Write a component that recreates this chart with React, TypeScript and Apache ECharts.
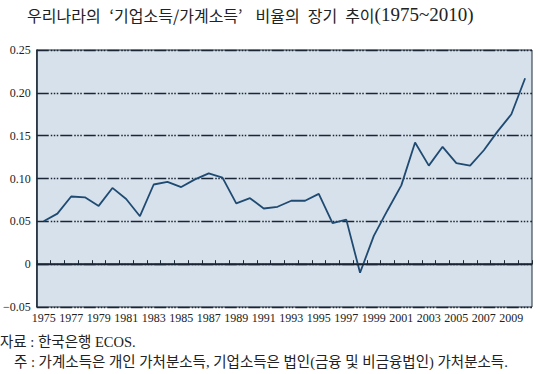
import React, { useEffect, useRef } from "react";
import * as echarts from "echarts";

const years: string[] = [
  "1975", "1976", "1977", "1978", "1979", "1980", "1981", "1982", "1983", "1984",
  "1985", "1986", "1987", "1988", "1989", "1990", "1991", "1992", "1993", "1994",
  "1995", "1996", "1997", "1998", "1999", "2000", "2001", "2002", "2003", "2004",
  "2005", "2006", "2007", "2008", "2009", "2010",
];

const ratio: number[] = [
  0.050, 0.059, 0.079, 0.078, 0.068, 0.089, 0.076, 0.056, 0.093, 0.096,
  0.090, 0.099, 0.106, 0.101, 0.071, 0.077, 0.065, 0.067, 0.074, 0.074,
  0.082, 0.048, 0.052, -0.010, 0.033, 0.063, 0.092, 0.142, 0.115, 0.137,
  0.118, 0.115, 0.133, 0.155, 0.175, 0.217,
];

const yTickLabels: Record<string, string> = {
  "-0.05": "\u22120.05",
  "0": "0",
  "0.05": "0.05",
  "0.1": "0.10",
  "0.15": "0.15",
  "0.2": "0.20",
  "0.25": "0.25",
};

const titleWords: string[] = ["우리나라의", "‘기업소득/가계소득’", "비율의", "장기", "추이"];
const titleYears = "(1975~2010)";
const sourceNote = "자료 : 한국은행 ECOS.";
const footNote = "주 : 가계소득은 개인 가처분소득, 기업소득은 법인(금융 및 비금융법인) 가처분소득.";

const SERIF = "'Liberation Serif', 'DejaVu Serif', 'Noto Sans CJK KR', serif";
const KR = "'Noto Sans CJK KR', sans-serif";

export default function App() {
  const ref = useRef<HTMLDivElement>(null);

  useEffect(() => {
    if (!ref.current) return;
    const chart = echarts.init(ref.current, undefined, { renderer: "svg" });
    const gaps = ["s1", "s2", "s3", "s3"];
    let titleRich = "";
    titleWords.forEach((w, i) => {
      titleRich += `{k|${w}}`;
      if (i < gaps.length) titleRich += `{${gaps[i]}| }`;
    });
    titleRich += `{y|${titleYears}}`;

    chart.setOption({
      animation: false,
      backgroundColor: "#ffffff",
      grid: {
        left: 36,
        right: 8,
        top: 50,
        bottom: 67,
        show: true,
        backgroundColor: "#d6e1eb",
        borderColor: "#1e2a38",
        borderWidth: 1,
      },
      xAxis: {
        type: "category",
        data: years,
        boundaryGap: true,
        axisLine: { show: true, lineStyle: { color: "#1e2a38", width: 1.5 } },
        axisTick: {
          show: true,
          inside: true,
          length: 4,
          interval: 0,
          lineStyle: { color: "#1e2a38", width: 1 },
        },
        axisLabel: {
          interval: 1,
          fontFamily: SERIF,
          fontSize: 12,
          color: "#222",
          margin: 5,
        },
        splitLine: { show: false },
      },
      yAxis: {
        type: "value",
        min: -0.05,
        max: 0.25,
        interval: 0.05,
        axisLine: { show: true, lineStyle: { color: "#1e2a38", width: 1.5 } },
        axisTick: { show: false },
        axisLabel: {
          fontFamily: SERIF,
          fontSize: 12,
          color: "#222",
          margin: 6,
          formatter: (v: number) => {
            const key = String(Math.round(v * 100) / 100);
            return yTickLabels[key] ?? key;
          },
        },
        splitLine: {
          show: true,
          lineStyle: {
            color: "#1a2535",
            width: 1.3,
            type: [12, 2, 1.5, 1.5, 1.5, 1.5, 1.5, 2],
          },
        },
      },
      series: [
        {
          type: "line",
          data: ratio,
          symbol: "none",
          lineStyle: { color: "#1f4a72", width: 1.8 },
          markLine: {
            silent: true,
            symbol: "none",
            label: { show: false },
            lineStyle: { color: "#1a2535", width: 1.3, type: "solid" },
            data: [{ yAxis: 0 }],
          },
          z: 3,
        },
      ],
      graphic: [
        {
          type: "text",
          left: 27,
          top: 5,
          style: {
            text: titleRich,
            fill: "#222",
            rich: {
              k: { fontFamily: KR, fontSize: 16, fontWeight: "normal", fill: "#222", lineHeight: 24 },
              s1: { fontFamily: KR, fontSize: 16, width: 9, lineHeight: 24 },
              s2: { fontFamily: KR, fontSize: 16, width: 13, lineHeight: 24 },
              s3: { fontFamily: KR, fontSize: 16, width: 8, lineHeight: 24 },
              y: { fontFamily: SERIF, fontSize: 19, fontWeight: "normal", fill: "#222", lineHeight: 24 },
            },
          },
        },
        {
          type: "text",
          left: 0,
          top: 335,
          style: { text: sourceNote, font: `14.5px ${SERIF}`, fill: "#222" },
        },
        {
          type: "text",
          left: 14,
          top: 355,
          style: { text: footNote, font: `14.5px ${SERIF}`, fill: "#222" },
        },
      ],
    });
    return () => chart.dispose();
  }, []);

  return (
    <div
      ref={ref}
      style={{ position: "fixed", left: 0, top: 0, width: 540, height: 374 }}
    />
  );
}
